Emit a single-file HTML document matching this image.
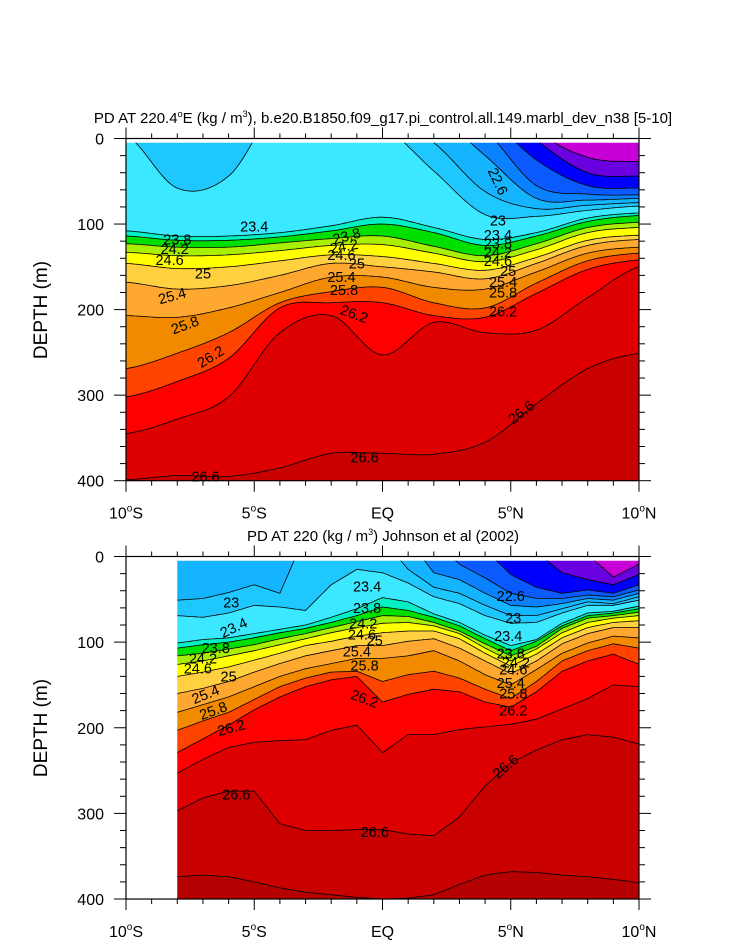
<!DOCTYPE html>
<html><head><meta charset="utf-8"><style>
html,body{margin:0;padding:0;background:#fff;}
svg{display:block;font-family:"Liberation Sans",sans-serif;}
</style></head><body>
<svg id="chart" width="733" height="945" viewBox="0 0 733 945" xmlns="http://www.w3.org/2000/svg">
<text x="383" y="123" font-size="15" text-anchor="middle">PD AT 220.4<tspan font-size="9" dy="-6">o</tspan><tspan dy="6">E (kg / m</tspan><tspan font-size="9" dy="-6">3</tspan><tspan dy="6">), b.e20.B1850.f09_g17.pi_control.all.149.marbl_dev_n38 [5-10]</tspan></text>
<text x="383" y="541" font-size="15" text-anchor="middle">PD AT 220 (kg / m<tspan font-size="9" dy="-6">3</tspan><tspan dy="6">) Johnson et al (2002)</tspan></text>
<text transform="translate(47,310) rotate(-90)" font-size="19" text-anchor="middle">DEPTH (m)</text>
<text transform="translate(47,728) rotate(-90)" font-size="19" text-anchor="middle">DEPTH (m)</text>
<g id="topPanel"></g>
<g id="botPanel"></g>
</svg>
<script>
// ---- shared contour levels and fill colours ----
const levels = [22.2,22.4,22.6,22.8,23.0,23.2,23.4,23.8,24.0,24.4,24.6,25.0,25.4,25.8,26.2,26.3,26.45,26.6,26.8];
const bandColors = ["#c800d8","#6a00e0","#0000ff","#0a5aff","#0a82ff","#14b4ff","#1ec8ff","#3ce8ff","#00f0c4","#00e000","#a8f000","#ffff00","#ffd040","#ffa830","#f28a00","#ff4400","#ff0000","#de0000","#c80000","#b40000"];
const xTickLabels = ["10°S","5°S","EQ","5°N","10°N"];
const xTickLats = [-10,-5,0,5,10];
const yTickLabels = ["0","100","200","300","400"];
const yTickDepths = [0,100,200,300,400];

// ---- top panel (model): isoline depths (m) at latitudes ----
const topLats = [-10,-8,-6,-4,-2,0,2,4,6,8,10];
const top222 = [-300,-300,-300,-300,-300,-146,-122,-75,-10,22,27];
const top224 = [-280,-280,-280,-280,-280,-122,-100,-50,2,40,44];
const top226 = [-260,-260,-260,-260,-260,-98,-75,-30,25,55,58];
const top228 = [-240,-240,-240,-240,-240,-75,-51,-10,55,65,66];
const top230 = [-70,-60,-100,-120,-100,-50,-30,20,70,72,70];
const top232 = [-27,-15,-51,-80,-60,-30,5,62,82,78,75];
const top234 = [-4,58,44,-39,-27,-15,38,89,91,84,79];
const top238 = [108,114,114,110,102,92,104,118,110,93,87];
const top240 = [114,119,119,115,108,100,110,125,114,97,90];
const top244 = [123,127,127,122,117,114,126,137,123,104,98];
const top246 = [133,137,136,131,125,124,134,144,130,110,104];
const top250 = [146,152,150,143,136,138,146,154,139,119,113];
const top254 = [168,176,172,160,146,150,156,164,146,125,118];
const top258 = [207,209,198,180,162,162,174,176,156,134,127];
const top262 = [269,251,227,192,179,174,192,198,169,143,134];
const top263 = [302,284,257,198,192,192,207,209,181,153,142];
const top2645 = [345,328,302,227,207,253,215,227,224,186,150];
const top266 = [399,394,395,385,368,368,369,355,310,269,251];
const top268 = [900,900,900,900,900,900,900,900,900,900,900];

// ---- bottom panel (Johnson et al): isoline depths (m) ----
const botLats = [-8,-7,-6,-5,-4,-3,-2,-1,0,1,2,3,4,5,6,7,8,9,10];
const bot222 = [-300,-300,-300,-300,-300,-300,-300,-300,-300,-250,-200,-150,-80,-40,-30,-5,-2,24,9];
const bot224 = [-280,-280,-280,-280,-280,-280,-280,-280,-280,-230,-180,-50,-30,-10,-5,19,27,33,21];
const bot226 = [-260,-260,-260,-260,-260,-260,-260,-260,-260,-210,-60,-10,-8,21,36,43,39,43,33];
const bot228 = [-240,-240,-240,-240,-240,-240,-240,-240,-240,-60,-20,9,25,43,49,49,45,47,39];
const bot230 = [-30,-30,-30,-30,-30,-100,-100,-100,-100,-20,19,27,43,57,59,55,49,51,43];
const bot232 = [51,49,42,33,43,-26,-38,-38,-20,15,36,43,57,69,69,61,53,55,47];
const bot234 = [69,71,66,57,59,63,33,15,19,31,47,55,69,78,77,66,57,57,51];
const bot238 = [101,97,95,90,85,80,71,61,48,53,67,77,92,104,97,78,66,64,58];
const bot240 = [107,103,100,95,89,84,77,69,59,63,71,81,96,110,99,81,69,66,61];
const bot244 = [116,113,108,103,96,90,83,76,69,70,77,87,102,116,105,84,72,69,65];
const bot246 = [126,122,116,110,103,96,89,83,78,77,81,90,107,122,108,89,77,72,69];
const bot250 = [140,135,129,121,113,104,99,93,89,87,87,96,113,128,114,95,83,77,75];
const bot254 = [160,154,146,135,125,116,110,104,104,99,96,107,122,137,122,102,90,83,83];
const bot258 = [182,173,164,152,140,131,125,119,119,116,110,122,138,150,132,113,101,93,95];
const bot262 = [203,192,182,167,152,142,135,134,146,138,134,142,155,166,146,122,110,102,107];
const bot263 = [229,213,197,179,164,152,144,140,170,161,155,158,170,176,158,134,122,114,126];
const bot2645 = [253,237,223,217,215,214,203,197,229,208,208,202,199,196,190,178,166,150,152];
const bot266 = [297,282,274,274,312,320,320,319,319,324,326,304,268,241,226,214,208,211,219];
const bot268 = [374,372,374,380,387,392,395,398,400,399,395,383,372,368,369,372,374,377,381];

const topIso = [top222,top224,top226,top228,top230,top232,top234,top238,top240,top244,top246,top250,top254,top258,top262,top263,top2645,top266,top268];
const botIso = [bot222,bot224,bot226,bot228,bot230,bot232,bot234,bot238,bot240,bot244,bot246,bot250,bot254,bot258,bot262,bot263,bot2645,bot266,bot268];

// ---- contour labels: [text, lat, depth, rotation] ----
const topLabels = [["23.4",-5,103,0],["23.8",-8,118,0],["24.2",-8.1,129,0],["24.6",-8.3,142,0],["25",-7,158,0],["25.4",-8.2,184,-15],["25.8",-7.7,218,-20],["26.2",-6.7,255,-32],["26.6",-6.9,395,0],["26.6",-0.7,373,0],["26.6",5.4,320,-38],
["23.8",-1.4,114,-15],["24.2",-1.5,126,-10],["24.6",-1.6,136,0],["25",-1,146,0],["25.4",-1.6,162,0],["25.8",-1.5,177,0],["26.2",-1.1,205,20],
["22.6",4.5,50,65],["23",4.5,96,0],["23.4",4.5,113,0],["23.8",4.5,123,0],["24.2",4.5,133,0],["24.6",4.5,143,0],["25",4.9,155,0],["25.4",4.7,168,0],["25.8",4.7,180,0],["26.2",4.7,202,0]];
const botLabels = [["23",-5.9,54,0],["23.4",-5.8,83,-25],["23.8",-6.5,107,0],["24.2",-7,119,0],["24.6",-7.2,131,0],["25",-6,140,0],["25.4",-6.9,161,-22],["25.8",-6.6,180,-20],["26.2",-5.9,200,-15],["26.6",-5.7,278,0],["26.6",-0.3,322,0],
["23.4",-0.6,35,0],["23.8",-0.6,60,0],["24.2",-0.75,78,0],["24.6",-0.8,91,0],["25",-0.3,98,0],["25.4",-1,111,0],["25.8",-0.7,127,0],["26.2",-0.7,166,20],
["22.6",5,46,0],["23",5.1,72,0],["23.4",4.9,93,0],["23.8",5,113,0],["24.2",5.2,124,0],["24.6",5.1,132,0],["25.4",5,148,0],["25.8",5.1,160,0],["26.2",5.1,180,0],["26.6",4.8,245,-40]];

const NS = "http://www.w3.org/2000/svg";
function mk(tag, attrs, parent){const e=document.createElementNS(NS,tag);for(const k in attrs)e.setAttribute(k,attrs[k]);if(parent)parent.appendChild(e);return e;}
function xOf(lat){return 126 + (lat+10)*25.65;}

function interp(lats, arr, lat, smooth){
  let i=0; while(i<lats.length-2 && lat>lats[i+1]) i++;
  const t=(lat-lats[i])/(lats[i+1]-lats[i]);
  if(!smooth) return arr[i]+(arr[i+1]-arr[i])*t;
  const p0=arr[Math.max(i-1,0)],p1=arr[i],p2=arr[i+1],p3=arr[Math.min(i+2,arr.length-1)];
  const t2=t*t,t3=t2*t;
  return 0.5*((2*p1)+(-p0+p2)*t+(2*p0-5*p1+4*p2-p3)*t2+(-p0+3*p1-3*p2+p3)*t3);
}

function drawPanel(g, cfg){
  const yOf = d => cfg.y0 + d*cfg.scale;
  const clipId = cfg.id+"clip";
  const cp = mk("clipPath",{id:clipId},g);
  mk("rect",{x:xOf(cfg.lats[0]),y:yOf(5),width:xOf(10)-xOf(cfg.lats[0]),height:yOf(400)-yOf(5)},cp);
  const fills = mk("g",{"clip-path":"url(#"+clipId+")"},g);
  
  
  const samples=[];
  for(let lat=cfg.lats[0]; lat<=10.0001; lat+=0.1){
    const ds=[]; let prev=-1e9;
    for(let k=0;k<cfg.iso.length;k++){
      let d=interp(cfg.lats,cfg.iso[k],Math.min(lat,10),cfg.smooth);
      d=Math.max(d,prev); prev=d; ds.push(Math.max(-60,Math.min(460,d)));
    }
    samples.push([xOf(Math.min(lat,10)),ds]);
  }
  const n=levels.length;
  for(let b=0;b<=n;b++){
    const topPts=samples.map(s=>[s[0], b===0?-60:s[1][b-1]]);
    const botPts=samples.map(s=>[s[0], b===n?460:s[1][b]]).reverse();
    const pts=topPts.concat(botPts).map(p=>p[0].toFixed(1)+","+yOf(p[1]).toFixed(1)).join(" ");
    const poly=mk("polygon",{points:pts,fill:bandColors[b],stroke:bandColors[b],"stroke-width":"0.6"},fills);
    
    
  }
  for(let k=0;k<n;k++){
    const pts=samples.map(s=>s[0].toFixed(1)+","+yOf(s[1][k]).toFixed(1)).join(" ");
    const pl=mk("polyline",{points:pts,fill:"none",stroke:"#000","stroke-width":"0.8"},fills);
    
    
  }
  for(const L of cfg.labels){
    const x=xOf(L[1]), y=yOf(L[2]);
    const t=mk("text",{x:x,y:y+5,"font-size":"14.5","text-anchor":"middle",transform:"rotate("+L[3]+" "+x+" "+y+")"},g);
    t.textContent=L[0];
    
    
  }
  const fr=mk("rect",{x:126,y:yOf(0),width:513,height:yOf(400)-yOf(0),fill:"none",stroke:"#000","stroke-width":"1.2"},g);
  
  
  for(let lat=-10;lat<=10;lat++){
    const major=lat%5===0, x=xOf(lat), len=major?11:5;
    mk("line",{x1:x,x2:x,y1:yOf(0),y2:yOf(0)-len,stroke:"#000","stroke-width":"1"},g);
    mk("line",{x1:x,x2:x,y1:yOf(400),y2:yOf(400)+len,stroke:"#000","stroke-width":"1"},g);
  }
  xTickLabels.forEach((s,i)=>{
    const t=mk("text",{x:xOf(xTickLats[i]),y:yOf(400)+38,"font-size":"16","text-anchor":"middle"},g);
    const m=s.match(/^(\d+)°(.)$/);
    if(m){ t.appendChild(document.createTextNode(m[1])); const sp=mk("tspan",{"font-size":"10",dy:"-7"},t); sp.textContent="o"; const sp2=mk("tspan",{dy:"7"},t); sp2.textContent=m[2]; }
    else t.textContent=s;
    
    
  });
  for(let d=0;d<=400;d+=20){
    const major=d%100===0, y=yOf(d), len=major?12:6;
    mk("line",{x1:126,x2:126-len,y1:y,y2:y,stroke:"#000","stroke-width":"1"},g);
    mk("line",{x1:639,x2:639+len,y1:y,y2:y,stroke:"#000","stroke-width":"1"},g);
  }
  yTickLabels.forEach((s,i)=>{
    const t=mk("text",{x:104,y:yOf(yTickDepths[i])+6,"font-size":"16","text-anchor":"end"},g);
    t.textContent=s;
    
    
  });
}
drawPanel(document.getElementById("topPanel"),{id:"top",lats:topLats,iso:topIso,smooth:true,y0:138.5,scale:0.8555,labels:topLabels});
drawPanel(document.getElementById("botPanel"),{id:"bot",lats:botLats,iso:botIso,smooth:false,y0:556.5,scale:0.8563,labels:botLabels});
</script>
</body></html>
